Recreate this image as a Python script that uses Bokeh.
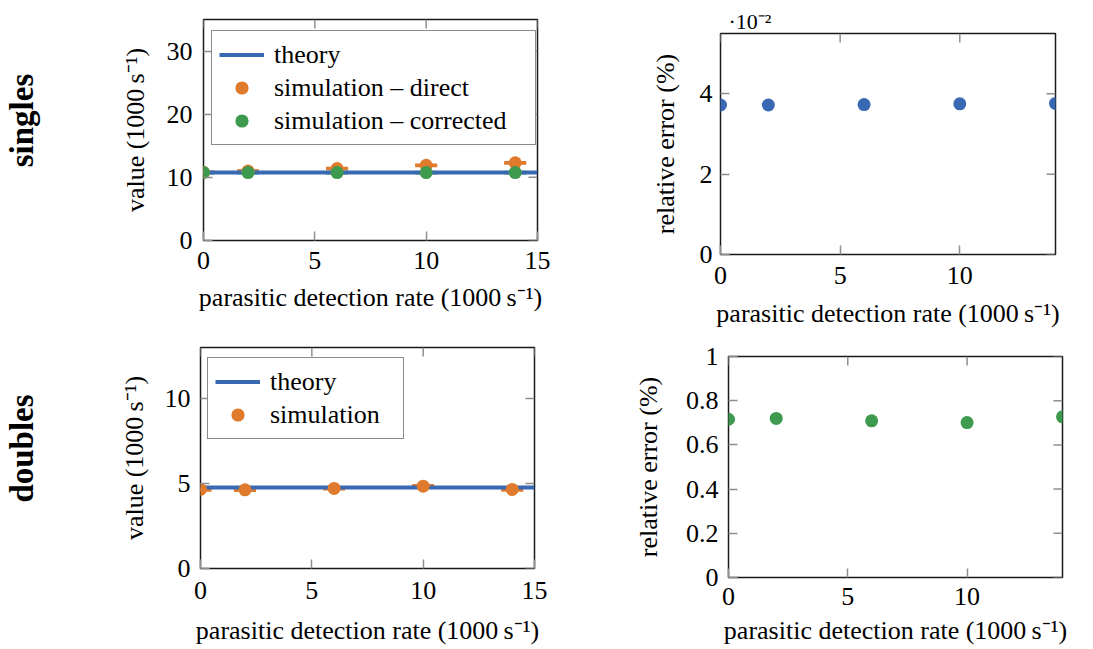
from math import pi
from bokeh.plotting import figure
from bokeh.layouts import column, row
from bokeh.models import (Range1d, FixedTicker, Whisker, TeeHead, ColumnDataSource,
                          Legend, LegendItem, CustomJSTickFormatter, Spacer)
from bokeh.core.properties import value
from bokeh.embed import file_html
from bokeh.resources import INLINE

# ---------------- data ----------------
rates = [0, 2, 6, 10, 14]                      # parasitic detection rate (1000 s^-1)
theory_x = [0, 15]
singles_theory = [10.75, 10.75]
singles_direct = [10.8, 11.0, 11.4, 11.9, 12.3]
singles_direct_err = [0.05, 0.05, 0.05, 0.05, 0.05]
singles_corrected = [10.75, 10.75, 10.75, 10.75, 10.75]
singles_corrected_err = [0.05, 0.05, 0.05, 0.05, 0.05]
singles_rel_err = [3.72, 3.72, 3.73, 3.75, 3.76]   # x 10^-2 %
doubles_theory = [4.77, 4.77]
doubles_sim = [4.65, 4.63, 4.71, 4.84, 4.65]
doubles_sim_err = [0.04, 0.04, 0.04, 0.04, 0.04]
doubles_rel_err = [0.716, 0.720, 0.709, 0.701, 0.727]  # %

x_ticks_left = [0, 5, 10, 15]
x_ticks_right = [0, 5, 10]
y_ticks_tl = [0, 10, 20, 30]
y_ticks_tr = [0, 2, 4]
y_ticks_bl = [0, 5, 10]
y_ticks_br = [0, 0.2, 0.4, 0.6, 0.8, 1]

xlabel = "parasitic detection rate (1000\u2009s\u207b\u00b9)"
ylabel_val = "value (1000\u2009s\u207b\u00b9)"
ylabel_err = "relative error (%)"
exponent_label = "\u00b710\u207b\u00b2"

BLUE = "#3a69b4"
ORANGE = "#e07b2e"
GREEN = "#3d9a4e"
FONT = "Liberation Serif"
FS = "26px"
TICK_COLOR = "#8f8f8f"


def make_fig(xr, yr, xt, yt, fw, fh, bl, br, bt, bb, ylab,
             x_std, x_lab_std, y_std, y_lab_std, yfmt=None):
    p = figure(frame_width=fw, frame_height=fh,
               min_border_left=bl, min_border_right=br,
               min_border_top=bt, min_border_bottom=bb,
               x_range=Range1d(*xr), y_range=Range1d(*yr),
               toolbar_location=None, output_backend="svg",
               x_axis_label=xlabel, y_axis_label=ylab)
    p.grid.visible = False
    p.outline_line_color = "#1a1a1a"
    p.outline_line_width = 1.5
    p.background_fill_color = "white"
    p.border_fill_color = "white"
    p.xaxis.ticker = FixedTicker(ticks=xt)
    p.yaxis.ticker = FixedTicker(ticks=yt)
    if yfmt is not None:
        p.yaxis.formatter = yfmt
    for ax in p.xaxis + p.yaxis:
        ax.axis_line_color = None
        ax.major_tick_in = 9
        ax.major_tick_out = 0
        ax.major_tick_line_color = TICK_COLOR
        ax.major_tick_line_width = 1.5
        ax.minor_tick_line_color = None
        ax.major_label_text_font = FONT
        ax.major_label_text_font_size = FS
        ax.major_label_text_color = "black"
        ax.axis_label_text_font = FONT
        ax.axis_label_text_font_size = FS
        ax.axis_label_text_font_style = "normal"
        ax.axis_label_text_color = "black"
    p.xaxis.major_label_standoff = x_std
    p.xaxis.axis_label_standoff = x_lab_std
    p.yaxis.major_label_standoff = y_std
    p.yaxis.axis_label_standoff = y_lab_std
    # mirrored tick marks on the top and right edges of the frame
    p.ray(x=xt, y=[yr[1]] * len(xt), length=9, length_units="screen", angle=-pi / 2,
          line_color=TICK_COLOR, line_width=1.5)
    p.ray(x=[xr[1]] * len(yt), y=yt, length=9, length_units="screen", angle=pi,
          line_color=TICK_COLOR, line_width=1.5)
    return p


def whisker(x, y, err, color):
    src = ColumnDataSource(dict(x=x,
                                upper=[a + b for a, b in zip(y, err)],
                                lower=[a - b for a, b in zip(y, err)]))
    return Whisker(source=src, base="x", upper="upper", lower="lower",
                   line_color=color, line_width=3,
                   upper_head=TeeHead(size=22, line_color=color, line_width=3),
                   lower_head=TeeHead(size=22, line_color=color, line_width=3))


def style_legend(lg, label_width, loc):
    lg.location = loc
    lg.margin = 0
    lg.padding = 7
    lg.spacing = 0
    lg.glyph_width = 45
    lg.glyph_height = 33
    lg.label_height = 33
    lg.label_width = label_width
    lg.label_standoff = 10
    lg.label_text_font = FONT
    lg.label_text_font_size = FS
    lg.label_text_color = "black"
    lg.label_text_baseline = "middle"
    lg.border_line_color = "#1a1a1a"
    lg.border_line_width = 1.5
    lg.background_fill_color = "white"
    lg.background_fill_alpha = 1.0


def row_label(text, h, bt, bb, y):
    fh = h - bt - bb
    p = figure(width=68, height=h, min_border_left=0, min_border_right=0,
               min_border_top=bt, min_border_bottom=bb,
               x_range=Range1d(0, 68), y_range=Range1d(0, fh),
               x_axis_type=None, y_axis_type=None, toolbar_location=None, output_backend="svg")
    p.grid.visible = False
    p.outline_line_color = None
    p.text(x=[21], y=[y], text=[text], angle=pi / 2, text_align="center",
           text_baseline="middle", text_font=value(FONT), text_font_style="bold",
           text_font_size="33px", text_color="black")
    return p


# ---------------- singles, value ----------------
p1 = make_fig((0, 15), (0, 35), x_ticks_left, y_ticks_tl, 334, 221, 135, 63, 19, 76,
              ylabel_val, 11, 11, 11, 14)
r_th = p1.line(theory_x, singles_theory, line_color=BLUE, line_width=4)
p1.add_layout(whisker(rates, singles_direct, singles_direct_err, ORANGE))
r_dir = p1.scatter(rates, singles_direct, size=13, fill_color=ORANGE, line_color=None)
p1.add_layout(whisker(rates, singles_corrected, singles_corrected_err, GREEN))
r_cor = p1.scatter(rates, singles_corrected, size=13, fill_color=GREEN, line_color=None)
lg1 = Legend(items=[LegendItem(label="theory", renderers=[r_th]),
                    LegendItem(label="simulation \u2013 direct", renderers=[r_dir]),
                    LegendItem(label="simulation \u2013 corrected", renderers=[r_cor])])
style_legend(lg1, 254, (8, 95))
p1.add_layout(lg1, "center")

# ---------------- singles, relative error ----------------
p2 = make_fig((0, 14), (0, 5.5), x_ticks_right, y_ticks_tr, 335, 221, 120, 35, 33, 78,
              ylabel_err, 12, 12, 8, 17)
p2.scatter(rates, singles_rel_err, size=13, fill_color=BLUE, line_color=None)
p2.title.text = exponent_label
p2.title.align = "left"
p2.title.offset = 8
p2.title.standoff = 0
p2.title.text_font = FONT
p2.title.text_font_size = "22px"
p2.title.text_font_style = "normal"
p2.title.text_color = "black"

# ---------------- doubles, value ----------------
p3 = make_fig((0, 15), (0, 13), x_ticks_left, y_ticks_bl, 334, 221, 132, 66, 15, 81,
              ylabel_val, 13, 14, 10, 13)
r_th3 = p3.line(theory_x, doubles_theory, line_color=BLUE, line_width=4)
p3.add_layout(whisker(rates, doubles_sim, doubles_sim_err, ORANGE))
r_sim3 = p3.scatter(rates, doubles_sim, size=13, fill_color=ORANGE, line_color=None)
lg3 = Legend(items=[LegendItem(label="theory", renderers=[r_th3]),
                    LegendItem(label="simulation", renderers=[r_sim3])])
style_legend(lg3, 126, (7, 129))
p3.add_layout(lg3, "center")

# ---------------- doubles, relative error ----------------
p4 = make_fig((0, 14), (0, 1), x_ticks_right, y_ticks_br, 334, 221, 128, 28, 21, 72,
              ylabel_err, 10, 8, 10, 20,
              yfmt=CustomJSTickFormatter(code="return String(tick);"))
p4.scatter(rates, doubles_rel_err, size=13, fill_color=GREEN, line_color=None)

# ---------------- row labels ----------------
lab1 = row_label("singles", 332, 33, 78, 134)
lab2 = row_label("doubles", 317, 15, 81, 120)

row1 = row(lab1, column(p1, Spacer(width=532, height=16)), p2)
row2 = row(lab2, p3, column(Spacer(width=490, height=3), p4))
layout = column(row1, row2)

open("out.html", "w").write(file_html(layout, INLINE))
